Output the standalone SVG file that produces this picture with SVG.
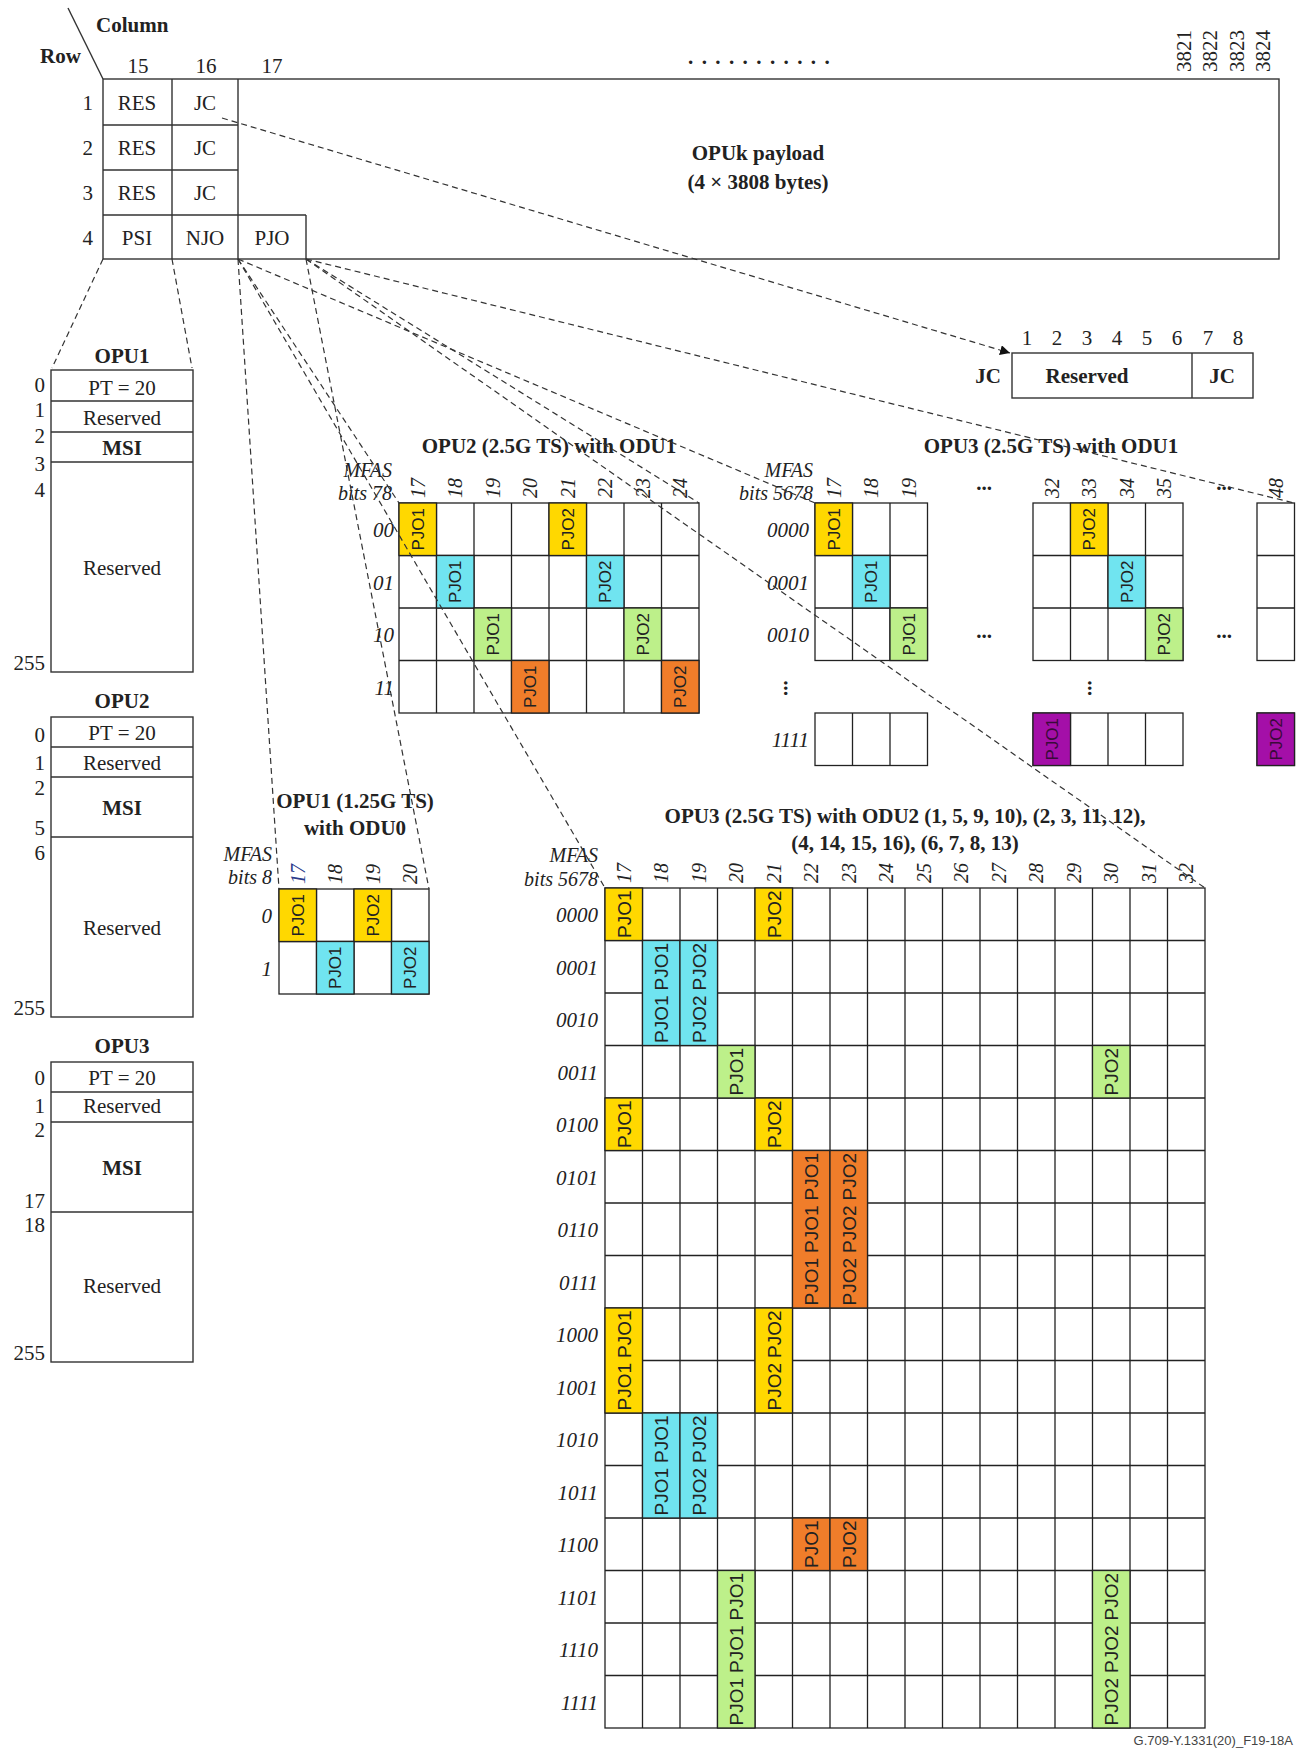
<svg xmlns="http://www.w3.org/2000/svg" width="1299" height="1749" viewBox="0 0 1299 1749">
<defs>
<style>
.s{font-family:"Liberation Serif","Times New Roman",serif;font-size:21px;fill:#222}
.b{font-weight:bold}
.i{font-style:italic}
.m{text-anchor:middle}
.e{text-anchor:end}
.mf{font-size:20px}
.h{font-family:"Liberation Serif","Times New Roman",serif;font-size:20px;font-style:italic;fill:#222}
.pj{font-family:"Liberation Sans",Arial,sans-serif;font-size:17px;text-anchor:middle;fill:#222}
.pk{font-family:"Liberation Sans",Arial,sans-serif;font-size:19px;text-anchor:middle;fill:#222}
.ln{fill:none;stroke:#333;stroke-width:1.4}
.gl{fill:none;stroke:#222;stroke-width:1.3}
.cn{fill:none;stroke:#333;stroke-width:1.2;stroke-dasharray:6 4}
.Y{fill:#FFD800;stroke:#222;stroke-width:1.3}
.C{fill:#70E4F0;stroke:#222;stroke-width:1.3}
.G{fill:#BDF08A;stroke:#222;stroke-width:1.3}
.O{fill:#F07D2A;stroke:#222;stroke-width:1.3}
.P{fill:#A40FA8;stroke:#222;stroke-width:1.3}
</style>
<marker id="arr" viewBox="0 0 10 10" refX="10" refY="5" markerWidth="10" markerHeight="10" markerUnits="userSpaceOnUse" orient="auto">
<path d="M0,0 L10,5 L0,10 z" fill="#111"/>
</marker>
</defs>
<rect width="1299" height="1749" fill="#fff"/>

<g id="opuk-frame">
<line class="ln" x1="68" y1="8" x2="103" y2="79"/>
<text class="s b" x="96" y="32">Column</text>
<text class="s b" x="40" y="63">Row</text>
<text class="s m" x="138" y="73">15</text>
<text class="s m" x="206" y="73">16</text>
<text class="s m" x="272" y="73">17</text>
<text class="s b" x="688" y="64" style="letter-spacing:8.4px">...........</text>
<text class="s" x="1191" y="72" transform="rotate(-90 1191 72)">3821</text>
<text class="s" x="1217" y="72" transform="rotate(-90 1217 72)">3822</text>
<text class="s" x="1244" y="72" transform="rotate(-90 1244 72)">3823</text>
<text class="s" x="1270" y="72" transform="rotate(-90 1270 72)">3824</text>
<rect class="ln" x="103" y="79" width="1176" height="180"/>
<path class="ln" d="M172,79V259M238,79V259M103,125H238M103,170H238M103,215H306M306,215V259"/>
<text class="s e" x="93" y="110">1</text>
<text class="s e" x="93" y="155">2</text>
<text class="s e" x="93" y="200">3</text>
<text class="s e" x="93" y="245">4</text>
<text class="s m" x="137" y="110">RES</text>
<text class="s m" x="137" y="155">RES</text>
<text class="s m" x="137" y="200">RES</text>
<text class="s m" x="205" y="110">JC</text>
<text class="s m" x="205" y="155">JC</text>
<text class="s m" x="205" y="200">JC</text>
<text class="s m" x="137" y="245">PSI</text>
<text class="s m" x="205" y="245">NJO</text>
<text class="s m" x="272" y="245">PJO</text>
<text class="s b m" x="758" y="160">OPUk payload</text>
<text class="s b m" x="758" y="189">(4 × 3808 bytes)</text>
</g>

<g id="jc-byte">
<text class="s m" x="1027" y="345">1</text>
<text class="s m" x="1057" y="345">2</text>
<text class="s m" x="1087" y="345">3</text>
<text class="s m" x="1117" y="345">4</text>
<text class="s m" x="1147" y="345">5</text>
<text class="s m" x="1177" y="345">6</text>
<text class="s m" x="1208" y="345">7</text>
<text class="s m" x="1238" y="345">8</text>
<rect class="ln" x="1012" y="353" width="241" height="45"/>
<line class="ln" x1="1192" y1="353" x2="1192" y2="398"/>
<text class="s b e" x="1001" y="383">JC</text>
<text class="s b m" x="1087" y="383">Reserved</text>
<text class="s b m" x="1222" y="383">JC</text>
</g>

<g id="psi-opu1">
<text class="s b m" x="122" y="363">OPU1</text>
<rect class="ln" x="51" y="370" width="142" height="302"/>
<path class="ln" d="M51,401H193M51,432H193M51,462H193"/>
<text class="s m" x="122" y="395">PT = 20</text>
<text class="s m" x="122" y="425">Reserved</text>
<text class="s b m" x="122" y="455">MSI</text>
<text class="s m" x="122" y="575">Reserved</text>
<text class="s e" x="45" y="392">0</text>
<text class="s e" x="45" y="417">1</text>
<text class="s e" x="45" y="443">2</text>
<text class="s e" x="45" y="471">3</text>
<text class="s e" x="45" y="497">4</text>
<text class="s e" x="45" y="670">255</text>
</g>

<g id="psi-opu2">
<text class="s b m" x="122" y="708">OPU2</text>
<rect class="ln" x="51" y="717" width="142" height="300"/>
<path class="ln" d="M51,747H193M51,777H193M51,837H193"/>
<text class="s m" x="122" y="740">PT = 20</text>
<text class="s m" x="122" y="770">Reserved</text>
<text class="s b m" x="122" y="815">MSI</text>
<text class="s m" x="122" y="935">Reserved</text>
<text class="s e" x="45" y="742">0</text>
<text class="s e" x="45" y="770">1</text>
<text class="s e" x="45" y="795">2</text>
<text class="s e" x="45" y="835">5</text>
<text class="s e" x="45" y="860">6</text>
<text class="s e" x="45" y="1015">255</text>
</g>

<g id="psi-opu3">
<text class="s b m" x="122" y="1053">OPU3</text>
<rect class="ln" x="51" y="1062" width="142" height="300"/>
<path class="ln" d="M51,1092H193M51,1122H193M51,1212H193"/>
<text class="s m" x="122" y="1085">PT = 20</text>
<text class="s m" x="122" y="1113">Reserved</text>
<text class="s b m" x="122" y="1175">MSI</text>
<text class="s m" x="122" y="1293">Reserved</text>
<text class="s e" x="45" y="1085">0</text>
<text class="s e" x="45" y="1113">1</text>
<text class="s e" x="45" y="1137">2</text>
<text class="s e" x="45" y="1208">17</text>
<text class="s e" x="45" y="1232">18</text>
<text class="s e" x="45" y="1360">255</text>
</g>

<g id="opu1-odu0">
<text class="s b m" x="355" y="808">OPU1 (1.25G TS)</text>
<text class="s b m" x="355" y="835">with ODU0</text>
<text class="s i e mf" x="272" y="861">MFAS</text>
<text class="s i e mf" x="272" y="884">bits 8</text>
<text class="h" x="304.75" y="884" transform="rotate(-90 304.75 884)" style="fill:#2a3a8a">17</text>
<text class="h" x="342.25" y="884" transform="rotate(-90 342.25 884)">18</text>
<text class="h" x="379.75" y="884" transform="rotate(-90 379.75 884)">19</text>
<text class="h" x="417.25" y="884" transform="rotate(-90 417.25 884)">20</text>
<text class="s i e" x="272" y="923">0</text>
<text class="s i e" x="272" y="976">1</text>
<rect class="gl" x="279" y="889" width="150" height="105"/>
<path class="gl" d="M316.5,889V994M354,889V994M391.5,889V994M279,941.5H429"/>
<rect class="Y" x="279" y="889" width="37.5" height="52.5"/>
<rect class="Y" x="354" y="889" width="37.5" height="52.5"/>
<rect class="C" x="316.5" y="941.5" width="37.5" height="52.5"/>
<rect class="C" x="391.5" y="941.5" width="37.5" height="52.5"/>
<text class="pj" x="303.75" y="915.25" transform="rotate(-90 303.75 915.25)">PJO1</text>
<text class="pj" x="378.75" y="915.25" transform="rotate(-90 378.75 915.25)">PJO2</text>
<text class="pj" x="341.25" y="967.75" transform="rotate(-90 341.25 967.75)">PJO1</text>
<text class="pj" x="416.25" y="967.75" transform="rotate(-90 416.25 967.75)">PJO2</text>
</g>

<g id="opu2-odu1">
<text class="s b m" x="549" y="453">OPU2 (2.5G TS) with ODU1</text>
<text class="s i e mf" x="392" y="477">MFAS</text>
<text class="s i e mf" x="392" y="500">bits 78</text>
<text class="h" x="424.75" y="498" transform="rotate(-90 424.75 498)">17</text>
<text class="h" x="462.25" y="498" transform="rotate(-90 462.25 498)">18</text>
<text class="h" x="499.75" y="498" transform="rotate(-90 499.75 498)">19</text>
<text class="h" x="537.25" y="498" transform="rotate(-90 537.25 498)">20</text>
<text class="h" x="574.75" y="498" transform="rotate(-90 574.75 498)">21</text>
<text class="h" x="612.25" y="498" transform="rotate(-90 612.25 498)">22</text>
<text class="h" x="649.75" y="498" transform="rotate(-90 649.75 498)">23</text>
<text class="h" x="687.25" y="498" transform="rotate(-90 687.25 498)">24</text>
<text class="s i e" x="394" y="537">00</text>
<text class="s i e" x="394" y="590">01</text>
<text class="s i e" x="394" y="642">10</text>
<text class="s i e" x="394" y="695">11</text>
<rect class="gl" x="399" y="503" width="300" height="210"/>
<path class="gl" d="M436.5,503V713M474,503V713M511.5,503V713M549,503V713M586.5,503V713M624,503V713M661.5,503V713M399,555.5H699M399,608H699M399,660.5H699"/>
<rect class="Y" x="399" y="503" width="37.5" height="52.5"/>
<rect class="Y" x="549" y="503" width="37.5" height="52.5"/>
<rect class="C" x="436.5" y="555.5" width="37.5" height="52.5"/>
<rect class="C" x="586.5" y="555.5" width="37.5" height="52.5"/>
<rect class="G" x="474" y="608" width="37.5" height="52.5"/>
<rect class="G" x="624" y="608" width="37.5" height="52.5"/>
<rect class="O" x="511.5" y="660.5" width="37.5" height="52.5"/>
<rect class="O" x="661.5" y="660.5" width="37.5" height="52.5"/>
<text class="pj" x="423.75" y="529.25" transform="rotate(-90 423.75 529.25)">PJO1</text>
<text class="pj" x="573.75" y="529.25" transform="rotate(-90 573.75 529.25)">PJO2</text>
<text class="pj" x="461.25" y="581.75" transform="rotate(-90 461.25 581.75)">PJO1</text>
<text class="pj" x="611.25" y="581.75" transform="rotate(-90 611.25 581.75)">PJO2</text>
<text class="pj" x="498.75" y="634.25" transform="rotate(-90 498.75 634.25)">PJO1</text>
<text class="pj" x="648.75" y="634.25" transform="rotate(-90 648.75 634.25)">PJO2</text>
<text class="pj" x="536.25" y="686.75" transform="rotate(-90 536.25 686.75)">PJO1</text>
<text class="pj" x="686.25" y="686.75" transform="rotate(-90 686.25 686.75)">PJO2</text>
</g>

<g id="opu3-odu1">
<text class="s b m" x="1051" y="453">OPU3 (2.5G TS) with ODU1</text>
<text class="s i e mf" x="813" y="477">MFAS</text>
<text class="s i e mf" x="813" y="500">bits 5678</text>
<text class="h" x="840.75" y="498" transform="rotate(-90 840.75 498)">17</text>
<text class="h" x="878.25" y="498" transform="rotate(-90 878.25 498)">18</text>
<text class="h" x="915.75" y="498" transform="rotate(-90 915.75 498)">19</text>
<text class="h" x="1058.75" y="498" transform="rotate(-90 1058.75 498)">32</text>
<text class="h" x="1096.25" y="498" transform="rotate(-90 1096.25 498)">33</text>
<text class="h" x="1133.75" y="498" transform="rotate(-90 1133.75 498)">34</text>
<text class="h" x="1171.25" y="498" transform="rotate(-90 1171.25 498)">35</text>
<text class="h" x="1282.75" y="498" transform="rotate(-90 1282.75 498)">48</text>
<text class="s b m" x="984" y="490">...</text>
<text class="s b m" x="1224" y="490">...</text>
<text class="s b m" x="984" y="638">...</text>
<text class="s b m" x="1224" y="638">...</text>
<text class="s b m" x="784" y="688" transform="rotate(90 784 688)">...</text>
<text class="s b m" x="1088" y="688" transform="rotate(90 1088 688)">...</text>
<text class="s i e" x="809" y="537">0000</text>
<text class="s i e" x="809" y="590">0001</text>
<text class="s i e" x="809" y="642">0010</text>
<text class="s i e" x="809" y="747">1111</text>
<rect class="gl" x="815" y="503" width="112.5" height="157.5"/>
<path class="gl" d="M852.5,503V660.5M890,503V660.5M815,555.5H927.5M815,608H927.5"/>
<rect class="gl" x="815" y="713" width="112.5" height="52.5"/>
<path class="gl" d="M852.5,713V765.5M890,713V765.5"/>
<rect class="gl" x="1033" y="503" width="150" height="157.5"/>
<path class="gl" d="M1070.5,503V660.5M1108,503V660.5M1145.5,503V660.5M1033,555.5H1183M1033,608H1183"/>
<rect class="gl" x="1033" y="713" width="150" height="52.5"/>
<path class="gl" d="M1070.5,713V765.5M1108,713V765.5M1145.5,713V765.5"/>
<rect class="gl" x="1257" y="503" width="37.5" height="157.5"/>
<path class="gl" d="M1257,555.5H1294.5M1257,608H1294.5"/>
<rect class="gl" x="1257" y="713" width="37.5" height="52.5"/>
<rect class="Y" x="815" y="503" width="37.5" height="52.5"/>
<rect class="Y" x="1070.5" y="503" width="37.5" height="52.5"/>
<rect class="C" x="852.5" y="555.5" width="37.5" height="52.5"/>
<rect class="C" x="1108" y="555.5" width="37.5" height="52.5"/>
<rect class="G" x="890" y="608" width="37.5" height="52.5"/>
<rect class="G" x="1145.5" y="608" width="37.5" height="52.5"/>
<rect class="P" x="1033" y="713" width="37.5" height="52.5"/>
<rect class="P" x="1257" y="713" width="37.5" height="52.5"/>
<text class="pj" x="839.75" y="529.25" transform="rotate(-90 839.75 529.25)">PJO1</text>
<text class="pj" x="1095.25" y="529.25" transform="rotate(-90 1095.25 529.25)">PJO2</text>
<text class="pj" x="877.25" y="581.75" transform="rotate(-90 877.25 581.75)">PJO1</text>
<text class="pj" x="1132.75" y="581.75" transform="rotate(-90 1132.75 581.75)">PJO2</text>
<text class="pj" x="914.75" y="634.25" transform="rotate(-90 914.75 634.25)">PJO1</text>
<text class="pj" x="1170.25" y="634.25" transform="rotate(-90 1170.25 634.25)">PJO2</text>
<text class="pj" x="1057.75" y="739.25" transform="rotate(-90 1057.75 739.25)" style="fill:#3a0a3a">PJO1</text>
<text class="pj" x="1281.75" y="739.25" transform="rotate(-90 1281.75 739.25)" style="fill:#3a0a3a">PJO2</text>
</g>

<g id="opu3-odu2">
<text class="s b m" x="905" y="823">OPU3 (2.5G TS) with ODU2 (1, 5, 9, 10), (2, 3, 11, 12),</text>
<text class="s b m" x="905" y="850">(4, 14, 15, 16), (6, 7, 8, 13)</text>
<text class="s i e mf" x="598" y="862">MFAS</text>
<text class="s i e mf" x="598" y="886">bits 5678</text>
<text class="h" x="630.75" y="883" transform="rotate(-90 630.75 883)">17</text>
<text class="h" x="668.25" y="883" transform="rotate(-90 668.25 883)">18</text>
<text class="h" x="705.75" y="883" transform="rotate(-90 705.75 883)">19</text>
<text class="h" x="743.25" y="883" transform="rotate(-90 743.25 883)">20</text>
<text class="h" x="780.75" y="883" transform="rotate(-90 780.75 883)">21</text>
<text class="h" x="818.25" y="883" transform="rotate(-90 818.25 883)">22</text>
<text class="h" x="855.75" y="883" transform="rotate(-90 855.75 883)">23</text>
<text class="h" x="893.25" y="883" transform="rotate(-90 893.25 883)">24</text>
<text class="h" x="930.75" y="883" transform="rotate(-90 930.75 883)">25</text>
<text class="h" x="968.25" y="883" transform="rotate(-90 968.25 883)">26</text>
<text class="h" x="1005.75" y="883" transform="rotate(-90 1005.75 883)">27</text>
<text class="h" x="1043.25" y="883" transform="rotate(-90 1043.25 883)">28</text>
<text class="h" x="1080.75" y="883" transform="rotate(-90 1080.75 883)">29</text>
<text class="h" x="1118.25" y="883" transform="rotate(-90 1118.25 883)">30</text>
<text class="h" x="1155.75" y="883" transform="rotate(-90 1155.75 883)">31</text>
<text class="h" x="1193.25" y="883" transform="rotate(-90 1193.25 883)">32</text>
<text class="s i e" x="598" y="922">0000</text>
<text class="s i e" x="598" y="975">0001</text>
<text class="s i e" x="598" y="1027">0010</text>
<text class="s i e" x="598" y="1080">0011</text>
<text class="s i e" x="598" y="1132">0100</text>
<text class="s i e" x="598" y="1185">0101</text>
<text class="s i e" x="598" y="1237">0110</text>
<text class="s i e" x="598" y="1290">0111</text>
<text class="s i e" x="598" y="1342">1000</text>
<text class="s i e" x="598" y="1395">1001</text>
<text class="s i e" x="598" y="1447">1010</text>
<text class="s i e" x="598" y="1500">1011</text>
<text class="s i e" x="598" y="1552">1100</text>
<text class="s i e" x="598" y="1605">1101</text>
<text class="s i e" x="598" y="1657">1110</text>
<text class="s i e" x="598" y="1710">1111</text>
<rect class="gl" x="605" y="888" width="600" height="840"/>
<path class="gl" d="M642.5,888V1728M680,888V1728M717.5,888V1728M755,888V1728M792.5,888V1728M830,888V1728M867.5,888V1728M905,888V1728M942.5,888V1728M980,888V1728M1017.5,888V1728M1055,888V1728M1092.5,888V1728M1130,888V1728M1167.5,888V1728"/>
<path class="gl" d="M605,940.5H1205M605,993H1205M605,1045.5H1205M605,1098H1205M605,1150.5H1205M605,1203H1205M605,1255.5H1205M605,1308H1205M605,1360.5H1205M605,1413H1205M605,1465.5H1205M605,1518H1205M605,1570.5H1205M605,1623H1205M605,1675.5H1205"/>
<rect class="Y" x="605" y="888" width="37.5" height="52.5"/>
<rect class="Y" x="755" y="888" width="37.5" height="52.5"/>
<rect class="Y" x="605" y="1098" width="37.5" height="52.5"/>
<rect class="Y" x="755" y="1098" width="37.5" height="52.5"/>
<rect class="Y" x="605" y="1308" width="37.5" height="105"/>
<rect class="Y" x="755" y="1308" width="37.5" height="105"/>
<rect class="C" x="642.5" y="940.5" width="37.5" height="105"/>
<rect class="C" x="680" y="940.5" width="37.5" height="105"/>
<rect class="C" x="642.5" y="1413" width="37.5" height="105"/>
<rect class="C" x="680" y="1413" width="37.5" height="105"/>
<rect class="G" x="717.5" y="1045.5" width="37.5" height="52.5"/>
<rect class="G" x="1092.5" y="1045.5" width="37.5" height="52.5"/>
<rect class="G" x="717.5" y="1570.5" width="37.5" height="157.5"/>
<rect class="G" x="1092.5" y="1570.5" width="37.5" height="157.5"/>
<rect class="O" x="792.5" y="1150.5" width="37.5" height="157.5"/>
<rect class="O" x="830" y="1150.5" width="37.5" height="157.5"/>
<rect class="O" x="792.5" y="1518" width="37.5" height="52.5"/>
<rect class="O" x="830" y="1518" width="37.5" height="52.5"/>
<text class="pk" x="630.75" y="914.25" transform="rotate(-90 630.75 914.25)">PJO1</text>
<text class="pk" x="780.75" y="914.25" transform="rotate(-90 780.75 914.25)">PJO2</text>
<text class="pk" x="630.75" y="1124.25" transform="rotate(-90 630.75 1124.25)">PJO1</text>
<text class="pk" x="780.75" y="1124.25" transform="rotate(-90 780.75 1124.25)">PJO2</text>
<text class="pk" x="630.75" y="1334.25" transform="rotate(-90 630.75 1334.25)">PJO1</text>
<text class="pk" x="630.75" y="1386.75" transform="rotate(-90 630.75 1386.75)">PJO1</text>
<text class="pk" x="780.75" y="1334.25" transform="rotate(-90 780.75 1334.25)">PJO2</text>
<text class="pk" x="780.75" y="1386.75" transform="rotate(-90 780.75 1386.75)">PJO2</text>
<text class="pk" x="668.25" y="966.75" transform="rotate(-90 668.25 966.75)">PJO1</text>
<text class="pk" x="668.25" y="1019.25" transform="rotate(-90 668.25 1019.25)">PJO1</text>
<text class="pk" x="705.75" y="966.75" transform="rotate(-90 705.75 966.75)">PJO2</text>
<text class="pk" x="705.75" y="1019.25" transform="rotate(-90 705.75 1019.25)">PJO2</text>
<text class="pk" x="668.25" y="1439.25" transform="rotate(-90 668.25 1439.25)">PJO1</text>
<text class="pk" x="668.25" y="1491.75" transform="rotate(-90 668.25 1491.75)">PJO1</text>
<text class="pk" x="705.75" y="1439.25" transform="rotate(-90 705.75 1439.25)">PJO2</text>
<text class="pk" x="705.75" y="1491.75" transform="rotate(-90 705.75 1491.75)">PJO2</text>
<text class="pk" x="743.25" y="1071.75" transform="rotate(-90 743.25 1071.75)">PJO1</text>
<text class="pk" x="1118.25" y="1071.75" transform="rotate(-90 1118.25 1071.75)">PJO2</text>
<text class="pk" x="743.25" y="1596.75" transform="rotate(-90 743.25 1596.75)">PJO1</text>
<text class="pk" x="743.25" y="1649.25" transform="rotate(-90 743.25 1649.25)">PJO1</text>
<text class="pk" x="743.25" y="1701.75" transform="rotate(-90 743.25 1701.75)">PJO1</text>
<text class="pk" x="1118.25" y="1596.75" transform="rotate(-90 1118.25 1596.75)">PJO2</text>
<text class="pk" x="1118.25" y="1649.25" transform="rotate(-90 1118.25 1649.25)">PJO2</text>
<text class="pk" x="1118.25" y="1701.75" transform="rotate(-90 1118.25 1701.75)">PJO2</text>
<text class="pk" x="818.25" y="1176.75" transform="rotate(-90 818.25 1176.75)">PJO1</text>
<text class="pk" x="818.25" y="1229.25" transform="rotate(-90 818.25 1229.25)">PJO1</text>
<text class="pk" x="818.25" y="1281.75" transform="rotate(-90 818.25 1281.75)">PJO1</text>
<text class="pk" x="855.75" y="1176.75" transform="rotate(-90 855.75 1176.75)">PJO2</text>
<text class="pk" x="855.75" y="1229.25" transform="rotate(-90 855.75 1229.25)">PJO2</text>
<text class="pk" x="855.75" y="1281.75" transform="rotate(-90 855.75 1281.75)">PJO2</text>
<text class="pk" x="818.25" y="1544.25" transform="rotate(-90 818.25 1544.25)">PJO1</text>
<text class="pk" x="855.75" y="1544.25" transform="rotate(-90 855.75 1544.25)">PJO2</text>
</g>

<g id="connectors">
<line class="cn" x1="103" y1="259" x2="52" y2="368"/>
<line class="cn" x1="172" y1="259" x2="192" y2="368"/>
<line class="cn" x1="238" y1="259" x2="279" y2="889"/>
<line class="cn" x1="238" y1="259" x2="399" y2="503"/>
<line class="cn" x1="238" y1="259" x2="605" y2="888"/>
<line class="cn" x1="238" y1="259" x2="815" y2="503"/>
<line class="cn" x1="306" y1="259" x2="429" y2="889"/>
<line class="cn" x1="306" y1="259" x2="699" y2="503"/>
<line class="cn" x1="306" y1="259" x2="1205" y2="888"/>
<line class="cn" x1="306" y1="259" x2="1294" y2="503"/>
<line class="cn" x1="222" y1="118" x2="1010" y2="353" marker-end="url(#arr)"/>
</g>

<text x="1293" y="1745" text-anchor="end" style="font-family:'Liberation Sans',Arial,sans-serif;font-size:13px;fill:#444">G.709-Y.1331(20)_F19-18A</text>
</svg>
